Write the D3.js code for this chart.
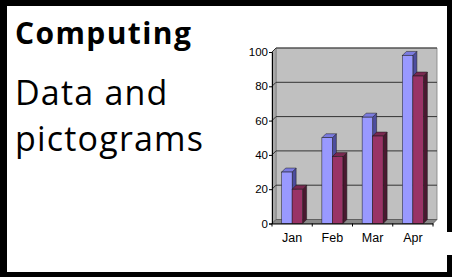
<!DOCTYPE html>
<html>
<head>
<meta charset="utf-8">
<script src="https://cdn.jsdelivr.net/npm/d3@7"></script>
<style>
  html, body { margin: 0; padding: 0; background: #fff; }
  svg { display: block; }
</style>
</head>
<body>
<svg id="chart" width="452" height="277"></svg>
<script>
// ---- data ----
const categories = ["Jan", "Feb", "Mar", "Apr"];
const seriesNames = ["Series 1", "Series 2"];
const series1 = [30, 50, 62, 98];
const series2 = [20, 39, 51, 86];
const yTicks = [0, 20, 40, 60, 80, 100];
const titleText = "Computing";
const subtitleLines = ["Data and", "pictograms"];

const svg = d3.select("#chart");
const W = 452, H = 277;

// ---- frame ----
svg.append("rect").attr("x", 0).attr("y", 0).attr("width", W).attr("height", H).attr("fill", "#000");
svg.append("rect").attr("x", 7).attr("y", 6).attr("width", 440).attr("height", 266).attr("fill", "#fff");
svg.append("rect").attr("x", 447).attr("y", 232).attr("width", 5).attr("height", 23).attr("fill", "#fff");

// ---- text ----
svg.append("text").attr("x", 15).attr("y", 44)
  .attr("font-family", "'Open Sans', sans-serif").attr("font-weight", 700)
  .attr("font-size", 30).attr("letter-spacing", 1.4).attr("fill", "#000").text(titleText);
svg.selectAll("text.sub").data(subtitleLines).join("text").attr("class", "sub")
  .attr("x", 15).attr("y", (d, i) => 105 + i * 46)
  .attr("font-family", "'Open Sans', sans-serif").attr("font-weight", 400)
  .attr("font-size", 34).attr("letter-spacing", 1.2).attr("fill", "#000").text(d => d);

// ---- chart geometry ----
const x0 = d3.scaleBand().domain(categories).range([272, 433]).padding(0);
const x1 = d3.scaleBand().domain(seriesNames).range([0, 21]);
const groupOff = (x0.bandwidth() - 21) / 2;
const y = d3.scaleLinear().domain([0, 100]).range([223.5, 52]);
const dx = 4, dy = -4;
const xL = x0.range()[0], xR = x0.range()[1];
const g = svg.append("g");

const poly = pts => pts.map(p => p.join(",")).join(" ");

// back wall
g.append("polygon").attr("points", poly([[xL+dx, y(100)+dy],[xR+dx, y(100)+dy],[xR+dx, y(0)+dy],[xL+dx, y(0)+dy]]))
  .attr("fill", "#c0c0c0").attr("stroke", "#808080").attr("stroke-width", 0.8);
// left wall
g.append("polygon").attr("points", poly([[xL, y(100)],[xL+dx, y(100)+dy],[xL+dx, y(0)+dy],[xL, y(0)]]))
  .attr("fill", "#a8a8a8").attr("stroke", "#808080").attr("stroke-width", 0.8);
// floor
g.append("polygon").attr("points", poly([[xL, y(0)],[xR, y(0)],[xR+dx, y(0)+dy],[xL+dx, y(0)+dy]]))
  .attr("fill", "#8a8a8a").attr("stroke", "#555", ).attr("stroke-width", 0.8);

// gridlines
const grid = yTicks.filter(v => v > 0);
g.selectAll("line.gb").data(grid).join("line").attr("class", "gb")
  .attr("x1", xL+dx).attr("x2", xR+dx).attr("y1", d => y(d)+dy).attr("y2", d => y(d)+dy)
  .attr("stroke", "#333").attr("stroke-width", 1);
g.selectAll("line.gl").data(grid).join("line").attr("class", "gl")
  .attr("x1", xL).attr("x2", xL+dx).attr("y1", d => y(d)).attr("y2", d => y(d)+dy)
  .attr("stroke", "#333").attr("stroke-width", 1);

// bars
const colors = {
  "Series 1": { front: "#9999ff", top: "#7b7be0", side: "#4d4d9e" },
  "Series 2": { front: "#993366", top: "#7a2850", side: "#4a1830" }
};
const bars = [];
categories.forEach((c, i) => {
  [series1[i], series2[i]].forEach((v, j) => {
    bars.push({ cat: c, s: seriesNames[j], v });
  });
});
const bw = x1.bandwidth();
bars.forEach(b => {
  const xl = x0(b.cat) + groupOff + x1(b.s);
  const yt = y(b.v), yb = y(0);
  const col = colors[b.s];
  const bg = g.append("g");
  bg.append("polygon").attr("points", poly([[xl+bw, yt],[xl+bw+dx, yt+dy],[xl+bw+dx, yb+dy],[xl+bw, yb]]))
    .attr("fill", col.side).attr("stroke", "#1a1a1a").attr("stroke-width", 0.5);
  bg.append("polygon").attr("points", poly([[xl, yt],[xl+bw, yt],[xl+bw+dx, yt+dy],[xl+dx, yt+dy]]))
    .attr("fill", col.top).attr("stroke", "#1a1a1a").attr("stroke-width", 0.5);
  bg.append("rect").attr("x", xl).attr("y", yt).attr("width", bw).attr("height", yb - yt)
    .attr("fill", col.front).attr("stroke", "#1a1a1a").attr("stroke-width", 0.5);
});

// y axis
const yAxis = d3.axisLeft(y).tickValues(yTicks).tickSize(3).tickPadding(1).tickFormat(d3.format("d"));
const ya = g.append("g").attr("transform", `translate(${xL},0)`).call(yAxis);
ya.select(".domain").attr("stroke", "#000").attr("stroke-width", 1);
ya.selectAll(".tick line").attr("stroke", "#000");
ya.selectAll(".tick text").attr("font-family", "'Liberation Sans Narrow', 'Liberation Sans', Arial, sans-serif")
  .attr("font-size", 11.5).attr("fill", "#000");

// x axis (labels) + boundary ticks
const xAxis = d3.axisBottom(x0).tickSize(0).tickPadding(10);
const xa = g.append("g").attr("transform", `translate(0,${y(0)})`).call(xAxis);
xa.select(".domain").attr("stroke", "#000").attr("stroke-width", 1);
xa.selectAll(".tick text").attr("font-family", "'Liberation Sans Narrow', 'Liberation Sans', Arial, sans-serif")
  .attr("font-size", 12.5).attr("fill", "#000");
const bounds = categories.map(c => x0(c)).concat([xR]);
g.selectAll("line.xt").data(bounds).join("line").attr("class", "xt")
  .attr("x1", d => d).attr("x2", d => d).attr("y1", y(0)).attr("y2", y(0) + 3)
  .attr("stroke", "#000").attr("stroke-width", 1);
</script>
</body>
</html>
